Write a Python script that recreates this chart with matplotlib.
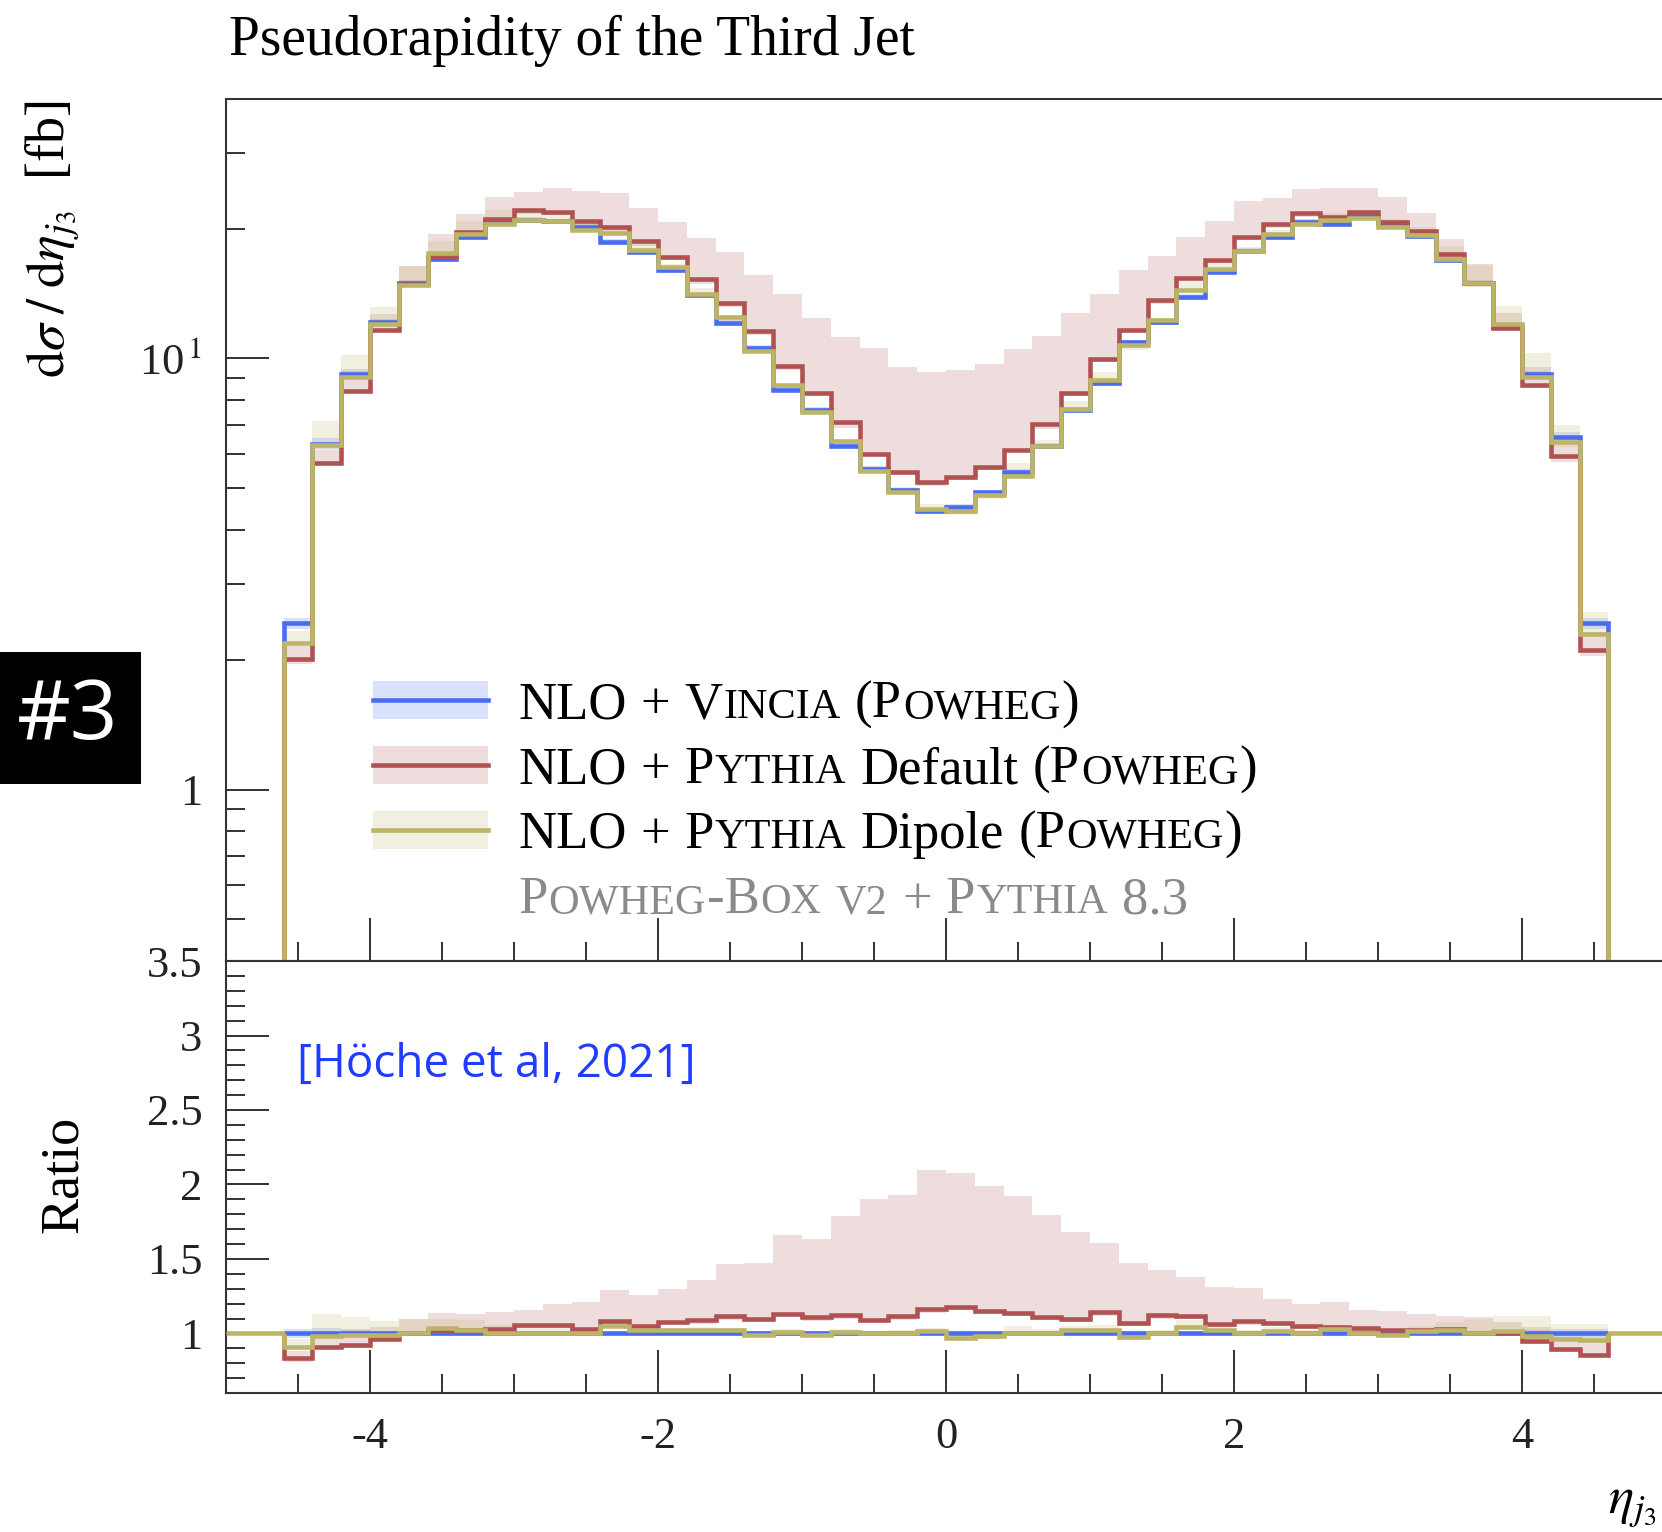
import re
import matplotlib
matplotlib.use('Agg')
import matplotlib.pyplot as plt
import numpy as np
from matplotlib.patches import Rectangle
from matplotlib.lines import Line2D

plt.rcParams['font.family'] = ['Liberation Serif', 'DejaVu Serif']
plt.rcParams['mathtext.fontset'] = 'stix'
plt.rcParams['axes.unicode_minus'] = False

# bins of eta_j3
eta_edges = np.linspace(-4.6, 4.6, 47)

# dsigma/deta_j3 [fb] (main panel)
vincia = [2.43, 6.32, 9.18, 12.14, 14.95, 17.03, 19.12, 20.8, 20.96, 20.8,
          20.2, 18.65, 17.7, 16.0, 14.0, 12.07, 10.57, 8.47, 7.6, 6.28,
          5.55, 4.94, 4.43, 4.53, 4.89, 5.45, 6.28, 7.6, 8.76, 10.9,
          12.14, 13.9, 15.9, 17.8, 19.1, 20.7, 20.5, 21.4, 20.6, 19.2,
          16.9, 14.95, 11.8, 9.18, 6.57, 2.43]
pythia_def = [2.01, 5.71, 8.40, 11.67, 14.9, 17.2, 19.68, 21.1, 22.1, 21.9,
              20.8, 20.15, 18.74, 17.18, 15.3, 13.44, 11.57, 9.63, 8.32, 7.11,
              5.99, 5.45, 5.16, 5.32, 5.6, 6.12, 7.03, 8.31, 9.98, 11.66,
              13.68, 15.4, 16.96, 19.1, 20.55, 21.7, 21.3, 21.9, 20.7, 19.75,
              17.5, 14.97, 11.78, 8.66, 5.93, 2.11]
pythia_dip = [2.19, 6.29, 9.05, 12.0, 14.77, 17.6, 19.4, 20.5, 20.96, 20.8,
              19.9, 19.55, 17.81, 16.3, 14.1, 12.47, 10.43, 8.66, 7.51, 6.45,
              5.49, 4.90, 4.48, 4.43, 4.81, 5.35, 6.28, 7.64, 8.92, 10.72,
              12.25, 14.4, 16.1, 17.8, 19.4, 20.5, 21.0, 21.2, 20.2, 19.3,
              17.0, 14.97, 12.0, 9.05, 6.39, 2.3]

# ratio panel (reference = Vincia)
vin_lo = [0.97, 0.975, 0.98, 0.985, 0.985, 0.985, 0.985, 0.985, 0.985, 0.985,
          0.985, 0.985, 0.985, 0.985, 0.985, 0.985, 0.985, 0.985, 0.985, 0.985,
          0.985, 0.985, 0.985, 0.985, 0.985, 0.985, 0.985, 0.985, 0.985, 0.985,
          0.985, 0.985, 0.985, 0.985, 0.985, 0.985, 0.985, 0.985, 0.985, 0.985,
          0.985, 0.985, 0.985, 0.98, 0.975, 0.97]
vin_hi = [1.03, 1.035, 1.02, 1.015, 1.015, 1.015, 1.015, 1.015, 1.015, 1.015,
          1.015, 1.015, 1.015, 1.015, 1.015, 1.015, 1.015, 1.015, 1.015, 1.015,
          1.015, 1.015, 1.015, 1.015, 1.015, 1.015, 1.015, 1.015, 1.015, 1.015,
          1.015, 1.015, 1.015, 1.015, 1.015, 1.015, 1.015, 1.015, 1.015, 1.015,
          1.015, 1.015, 1.015, 1.02, 1.03, 1.03]
def_ratio = [0.836, 0.908, 0.923, 0.966, 1.0, 1.02, 1.025, 1.03, 1.054, 1.054,
             1.03, 1.083, 1.052, 1.079, 1.088, 1.115, 1.10, 1.133, 1.11, 1.122,
             1.092, 1.115, 1.162, 1.178, 1.151, 1.14, 1.11, 1.095, 1.144, 1.07,
             1.122, 1.115, 1.065, 1.081, 1.072, 1.052, 1.043, 1.036, 1.02, 1.025,
             1.03, 1.0, 1.0, 0.948, 0.896, 0.858]
def_lo = [0.806, 0.895, 0.905, 0.945, 0.98, 1.0, 1.005, 1.01, 1.035, 1.035,
          1.01, 1.06, 1.03, 1.055, 1.065, 1.09, 1.075, 1.11, 1.085, 1.10,
          1.07, 1.09, 1.14, 1.155, 1.13, 1.12, 1.09, 1.075, 1.12, 1.05,
          1.10, 1.095, 1.045, 1.06, 1.05, 1.03, 1.02, 1.015, 1.0, 1.005,
          1.01, 0.98, 0.98, 0.93, 0.875, 0.84]
def_hi = [0.885, 0.97, 1.03, 1.045, 1.095, 1.14, 1.133, 1.142, 1.16, 1.196,
          1.214, 1.295, 1.259, 1.297, 1.358, 1.466, 1.475, 1.662, 1.633, 1.786,
          1.903, 1.932, 2.097, 2.074, 1.989, 1.926, 1.797, 1.678, 1.61, 1.47,
          1.426, 1.38, 1.309, 1.302, 1.234, 1.196, 1.214, 1.16, 1.151, 1.133,
          1.12, 1.11, 1.08, 1.04, 0.975, 0.953]
dip_ratio = [0.908, 0.986, 0.99, 0.99, 1.0, 1.036, 1.02, 1.005, 1.005, 1.005,
             1.0, 1.05, 1.02, 1.02, 1.025, 1.02, 0.99, 1.013, 0.99, 1.013,
             1.0, 1.0, 1.016, 0.97, 0.98, 1.0, 1.0, 1.02, 1.025, 0.975,
             1.0, 1.043, 1.025, 1.0, 1.016, 1.0, 1.032, 1.005, 0.99, 1.016,
             1.02, 1.0, 1.016, 0.986, 0.96, 0.957]
dip_lo = [0.895, 0.97, 0.98, 0.98, 0.99, 1.02, 1.005, 0.995, 0.995, 0.995,
          0.99, 1.035, 1.01, 1.01, 1.015, 1.01, 0.98, 1.0, 0.98, 1.0,
          0.99, 0.985, 1.0, 0.955, 0.965, 0.99, 0.99, 1.005, 1.01, 0.96,
          0.985, 1.025, 1.01, 0.99, 1.0, 0.99, 1.02, 0.99, 0.98, 1.0,
          1.005, 0.99, 1.0, 0.975, 0.95, 0.945]
dip_hi = [0.96, 1.133, 1.11, 1.083, 1.095, 1.10, 1.09, 1.06, 1.05, 1.04,
          1.03, 1.07, 1.04, 1.035, 1.04, 1.035, 1.01, 1.03, 1.01, 1.03,
          1.015, 1.02, 1.035, 0.99, 1.0, 1.05, 1.03, 1.05, 1.06, 0.99,
          1.02, 1.09, 1.06, 1.02, 1.04, 1.02, 1.06, 1.03, 1.02, 1.05,
          1.08, 1.1, 1.12, 1.12, 1.065, 1.065]

labels = ['NLO + V{incia} (P{owheg})',
          'NLO + P{ythia} Default (P{owheg})',
          'NLO + P{ythia} Dipole (P{owheg})']
generator_note = 'P{owheg}-B{ox} {v2} + P{ythia} 8.3'

colors = ['#4a6cf0', '#b05252', '#bcb466']
W, H = 1662, 1532
XLIM = (-5, 5)

fig = plt.figure(figsize=(W / 100, H / 100), dpi=100)
ax1 = fig.add_axes([0.136, 0.3727, 0.8664, 0.5627])
ax2 = fig.add_axes([0.136, 0.0907, 0.8664, 0.282])

ref = np.array(vincia)
curves = [ref, np.array(pythia_def), np.array(pythia_dip)]
ratios = [ref / ref, np.array(def_ratio), np.array(dip_ratio)]
bands = [(np.array(vin_lo), np.array(vin_hi)),
         (np.array(def_lo), np.array(def_hi)),
         (np.array(dip_lo), np.array(dip_hi))]

for (lo, hi), c in zip(bands, colors):
    ax1.stairs(ref * hi, eta_edges, baseline=ref * lo, fill=True,
               color=c, alpha=0.2, lw=0, zorder=1)
    ax2.stairs(hi, eta_edges, baseline=lo, fill=True,
               color=c, alpha=0.2, lw=0, zorder=1)
for k, (y, r, c) in enumerate(zip(curves, ratios, colors)):
    ax1.stairs(y, eta_edges, baseline=1e-3, color=c, lw=3.3, zorder=3 + k)
    ax2.stairs(r, eta_edges, baseline=1.0, color=c, lw=3.3, zorder=3 + k)
ax2.hlines([1.0, 1.0], [XLIM[0], eta_edges[-1]], [eta_edges[0], XLIM[1]],
           color=colors[2], lw=3.3, zorder=6)

ax1.set_yscale('log')
ax1.set_ylim(0.4, 40)
ax2.set_ylim(0.6, 3.5)
for ax in (ax1, ax2):
    ax.set_xlim(*XLIM)
    ax.set_xticks([-4, -2, 0, 2, 4])
    ax.set_xticks(np.arange(-4.5, 5, 0.5), minor=True)
    ax.tick_params(which='major', direction='in', length=31, width=1.3,
                   top=False, right=False, labelsize=32, pad=17, colors='#222')
    ax.tick_params(which='minor', direction='in', length=14, width=1.3,
                   top=False, right=False, colors='#222')
    for s in ax.spines.values():
        s.set_linewidth(1.5)
        s.set_color('#333')

ax1.tick_params(labelbottom=False)
ax1.set_yticks([1, 10])
ax1.set_yticklabels(['1', '10$^{\\,1}$'])
ax1.set_yticks([0.5, 0.6, 0.7, 0.8, 0.9, 2, 3, 4, 5, 6, 7, 8, 9, 20, 30], minor=True)
ax1.yaxis.set_minor_formatter(plt.NullFormatter())

ax2.set_yticks([1, 1.5, 2, 2.5, 3, 3.5])
ax2.set_yticklabels(['1', '1.5', '2', '2.5', '3', '3.5'])
ax2.set_yticks(np.arange(0.7, 3.45, 0.1), minor=True)
ax2.set_xticklabels(['-4', '-2', '0', '2', '4'])

# titles and axis labels
fig.text(229 / W, 1 - 55 / H, 'Pseudorapidity of the Third Jet', fontsize=40, va='baseline')
fig.text(53 / W, 1 - 100 / H, r'$\mathrm{d}\sigma\;/\;\mathrm{d}\eta_{j_3}$  [fb]',
         rotation=90, ha='center', va='top', fontsize=39)
fig.text(64 / W, 1 - 1174 / H, 'Ratio', rotation=90, ha='center', va='center', fontsize=39)
fig.text(1608 / W, 1 - 1505 / H, r'$\eta_{j_3}$', ha='left', va='center', fontsize=38)

fig.text(297 / W, 1 - 1077 / H, '[Höche et al, 2021]', color='#1f3cff',
         family=['Open Sans', 'DejaVu Sans'], fontsize=33, va='baseline')

# "#3" tag
fig.add_artist(Rectangle((0, 1 - 784 / H), 141 / W, 132 / H, transform=fig.transFigure,
                         facecolor='black', edgecolor='none'))
fig.text(68 / W, 1 - 718 / H, '#3', color='white', family=['Open Sans', 'DejaVu Sans'],
         fontsize=60, ha='center', va='center')


def caps_line(x_px, y_px, markup, size, color):
    # text with {..} parts set as small capitals
    rend = fig.canvas.get_renderer()
    space = size * 0.25 * 100 / 72
    for k, word in enumerate(markup.split(' ')):
        if k:
            x_px += space
        for seg in re.split(r'(\{[^}]*\})', word):
            if not seg:
                continue
            small = seg.startswith('{')
            s = seg.strip('{}').upper() if small else seg
            t = fig.text(x_px / W, 1 - y_px / H, s, fontsize=size * (0.8 if small else 1),
                         color=color, va='baseline')
            x_px += t.get_window_extent(rend).width + 1


# legend
for lab, c, yc in zip(labels, colors, [700, 765, 830]):
    fig.add_artist(Rectangle((373 / W, 1 - (yc + 19) / H), 115 / W, 38 / H,
                             transform=fig.transFigure, facecolor=c, alpha=0.2, edgecolor='none'))
    fig.add_artist(Line2D([373 / W, 488 / W], [1 - yc / H, 1 - yc / H],
                          transform=fig.transFigure, color=c, lw=3.3))
    caps_line(518, yc + 18, lab, 38, 'black')
caps_line(518, 913, generator_note, 38, '#8a8a8a')

fig.savefig('out.png', dpi=100)
